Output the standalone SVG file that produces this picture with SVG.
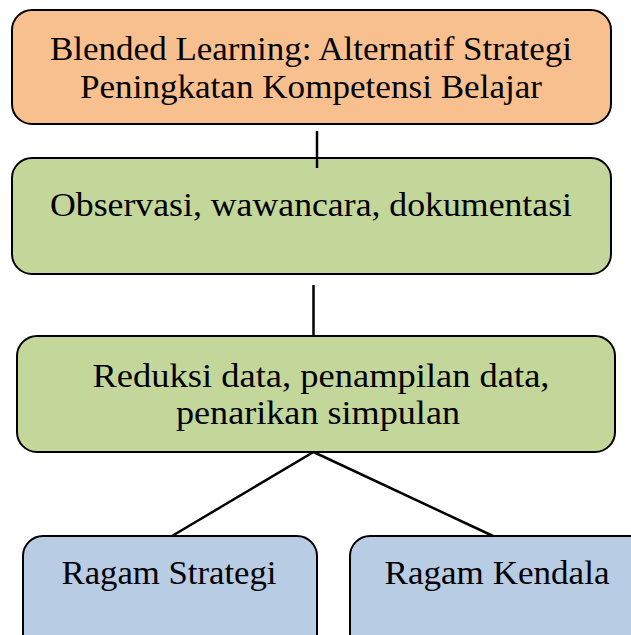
<svg xmlns="http://www.w3.org/2000/svg" width="631" height="635" viewBox="0 0 631 635">
  <style>
    .box { stroke: #000; stroke-width: 2; }
    .title { fill: #F9C08F; }
    .step { fill: #C4D79B; }
    .result { fill: #B8CCE4; }
    .label { font-family: "Liberation Serif", "Times New Roman", serif; font-size: 33px; fill: #000; text-anchor: middle; }
    .link { stroke: #000; stroke-width: 2.5; fill: none; }
  </style>
  <rect width="631" height="635" fill="#fff"/>

  <g id="node-title">
    <rect class="box title" x="12" y="10" width="599" height="114" rx="20"/>
    <text class="label" x="311" y="60" textLength="522" lengthAdjust="spacingAndGlyphs">Blended Learning: Alternatif Strategi</text>
    <text class="label" x="311" y="98" textLength="462" lengthAdjust="spacingAndGlyphs">Peningkatan Kompetensi Belajar</text>
  </g>

  <g id="node-collect">
    <rect class="box step" x="12" y="158" width="599" height="116" rx="20"/>
    <text class="label" x="311" y="216" textLength="522" lengthAdjust="spacingAndGlyphs">Observasi, wawancara, dokumentasi</text>
  </g>

  <g id="node-analysis">
    <rect class="box step" x="17" y="336" width="598" height="116" rx="20"/>
    <text class="label" x="321" y="387" textLength="457" lengthAdjust="spacingAndGlyphs">Reduksi data, penampilan data,</text>
    <text class="label" x="318" y="424" textLength="284" lengthAdjust="spacingAndGlyphs">penarikan simpulan</text>
  </g>

  <g id="node-strategy">
    <rect class="box result" x="23" y="536" width="294" height="120" rx="20"/>
    <text class="label" x="169" y="584" textLength="215" lengthAdjust="spacingAndGlyphs">Ragam Strategi</text>
  </g>

  <g id="node-constraint">
    <rect class="box result" x="350" y="536" width="300" height="120" rx="20"/>
    <text class="label" x="497" y="584" textLength="225" lengthAdjust="spacingAndGlyphs">Ragam Kendala</text>
  </g>

  <g id="connectors">
    <line class="link" x1="317" y1="131" x2="317" y2="168"/>
    <line class="link" x1="313.5" y1="285" x2="313.5" y2="336"/>
    <line class="link" x1="313.5" y1="452" x2="172" y2="536"/>
    <line class="link" x1="313.5" y1="452" x2="493" y2="536"/>
  </g>
</svg>
